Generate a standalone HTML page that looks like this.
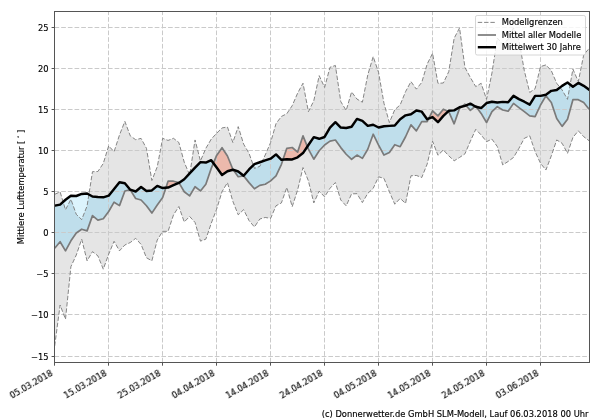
<!DOCTYPE html>
<html lang="de"><head><meta charset="utf-8"><title>Mittlere Lufttemperatur</title>
<style>html,body{margin:0;padding:0;background:#fff}svg{display:block}text{filter:url(#idf);stroke:#000;stroke-width:0.15px}</style></head>
<body>
<svg width="600" height="420" viewBox="0 0 600 420" font-family="DejaVu Sans, Liberation Sans, sans-serif" font-size="8.33" fill="#000">
<defs><filter id="idf" x="-5%" y="-50%" width="110%" height="200%"><feOffset dx="0" dy="0"/></filter></defs>
<rect width="600" height="420" fill="#fff"/>
<clipPath id="cp"><rect x="54" y="11" width="536" height="352"/></clipPath>
<g clip-path="url(#cp)">
<path d="M54.7,194.36 L60.1,191.81 L65.5,209.81 L70.89,199.29 L76.29,214.33 L81.69,219.59 L87.09,205.95 L92.49,171.67 L97.88,171.51 L103.28,163.45 L108.68,145.86 L114.08,151.7 L119.48,135.01 L124.87,121.37 L130.27,135.83 L135.67,139.7 L141.07,138.38 L146.47,148.33 L151.86,180.47 L157.26,166.74 L162.66,138.3 L168.06,140.44 L173.46,138.3 L178.85,142.49 L184.25,162.22 L189.65,174.96 L195.05,139.94 L200.45,160.99 L205.84,148.33 L211.24,139.12 L216.64,133.28 L222.04,127.94 L227.44,126.96 L232.83,142.49 L238.23,126.63 L243.63,144.13 L249.03,153.34 L254.43,168.38 L259.82,166.33 L265.22,154.99 L270.62,142.49 L276.02,123.58 L281.42,116.43 L286.81,113.72 L292.21,105.67 L297.61,93.17 L303.01,83.22 L308.41,111.67 L313.8,100.73 L319.2,75.66 L324.6,87.42 L330,67.28 L335.4,65.47 L340.79,101.64 L346.19,110.43 L351.59,91.94 L356.99,99.09 L362.39,102.21 L367.78,74.92 L373.18,56.59 L378.58,72.46 L383.98,103.28 L389.38,122.52 L394.77,109.69 L400.17,104.93 L405.57,91.61 L410.97,81.58 L416.37,89.14 L421.76,82.4 L427.16,64.07 L432.56,53.3 L437.96,83.31 L443.36,82.98 L448.75,71.63 L454.15,38.26 L459.55,27.9 L464.95,67.44 L470.35,77.47 L475.74,86.59 L481.14,83.31 L486.54,99.34 L491.94,73.03 L497.34,38.1 L502.73,44.26 L508.13,39.33 L513.53,27.82 L518.93,40.15 L524.33,70.73 L529.72,92.43 L535.12,88.65 L540.52,66.62 L545.92,64.89 L551.32,70.73 L556.71,83.31 L562.11,89.97 L567.51,99.34 L572.91,69.09 L578.31,81.58 L583.7,54.95 L589.1,48.37 L589.1,140.76 L583.7,136.65 L578.31,130.82 L572.91,137.48 L567.51,153.34 L562.11,143.31 L556.71,139.94 L551.32,155.81 L545.92,170.03 L540.52,163.29 L535.12,151.62 L529.72,135.83 L524.33,138.3 L518.93,148.33 L513.53,157.45 L508.13,161.48 L502.73,164.93 L497.34,146.6 L491.94,139.12 L486.54,141.67 L481.14,134.93 L475.74,129.34 L470.35,141.26 L464.95,153.83 L459.55,157.45 L454.15,160.82 L448.75,155.81 L443.36,149.97 L437.96,155.31 L432.56,141.26 L427.16,164.11 L421.76,177.51 L416.37,175.45 L410.97,175.78 L405.57,203.4 L400.17,198.39 L394.77,204.22 L389.38,191.73 L383.98,178.41 L378.58,176.77 L373.18,188.36 L367.78,193.37 L362.39,202.58 L356.99,193.7 L351.59,193.87 L346.19,205.87 L340.79,200.03 L335.4,182.52 L330,188.28 L324.6,196.83 L319.2,191.15 L313.8,202.91 L308.41,180.88 L303.01,167.56 L297.61,190 L292.21,206.69 L286.81,187.45 L281.42,202.91 L276.02,205.78 L270.62,218.36 L265.22,217.46 L259.82,219.02 L254.43,226.99 L249.03,220.58 L243.63,209.65 L238.23,214.83 L232.83,201.26 L227.44,182.6 L222.04,191.65 L216.64,209.16 L211.24,223.29 L205.84,239.16 L200.45,241.13 L195.05,222.47 L189.65,216.47 L184.25,221.98 L178.85,206.52 L173.46,214.99 L168.06,231.35 L162.66,231.35 L157.26,239.98 L151.86,260.86 L146.47,257.74 L141.07,244.42 L135.67,238.34 L130.27,242.53 L124.87,244.99 L119.48,250.83 L114.08,241.3 L108.68,254.2 L103.28,269.16 L97.88,255.84 L92.49,251.65 L87.09,260.86 L81.69,239.16 L76.29,255.02 L70.89,266.7 L65.5,319.22 L60.1,305 L54.7,345.94Z" fill="#e5e5e5"/>
<path d="M54.7,205.62 L60.1,204.63 L65.5,199.78 L70.89,195.67 L76.29,196 L81.69,193.95 L87.09,193.45 L92.49,196.5 L97.88,196.99 L103.28,197.32 L108.68,195.67 L114.08,189.02 L119.48,182.19 L124.87,183.18 L130.27,189.67 L135.67,191.48 L141.07,186.96 L146.47,190.91 L151.86,190.41 L157.26,185.89 L162.66,188.03 L165.9,187.73 L165.9,187.73 L162.66,197.56 L157.26,205.05 L151.86,213.1 L146.47,205.78 L141.07,200.03 L135.67,198.47 L130.27,189.84 L124.87,190.99 L119.48,205.62 L114.08,202.17 L108.68,211.46 L103.28,218.77 L97.88,220.17 L92.49,215.65 L87.09,230.86 L81.69,229.21 L76.29,232.99 L70.89,240.8 L65.5,250.83 L60.1,241.71 L54.7,248.28Z M178.99,182.84 L184.25,179.23 L189.65,173.4 L195.05,167.56 L200.45,162.14 L205.84,162.55 L211.24,160.16 L213.42,163.15 L213.42,163.15 L211.24,168.38 L205.84,184.25 L200.45,190.91 L195.05,186.71 L189.65,195.92 L184.25,191.73 L178.99,182.84Z M233.3,169.85 L238.23,171.51 L243.63,175.78 L249.03,169.45 L254.43,164.11 L259.82,162.22 L265.22,160.33 L270.62,158.68 L276.02,154.41 L281.42,159.84 L282.97,159.67 L282.97,159.67 L281.42,164.27 L276.02,175.86 L270.62,180.88 L265.22,184.25 L259.82,185.4 L254.43,188.77 L249.03,182.6 L243.63,175.86 L238.23,176.77 L233.3,169.85Z M307.35,146.55 L308.41,144.96 L313.8,137.15 L319.2,138.79 L324.6,136.98 L330,127.53 L335.4,122.19 L340.79,127.53 L346.19,128.02 L351.59,126.71 L356.99,118.9 L362.39,120.87 L367.78,125.89 L373.18,124.74 L378.58,127.53 L383.98,126.22 L389.38,125.89 L394.77,125.56 L400.17,119.23 L405.57,115.36 L410.97,114.21 L416.37,110.52 L421.76,111.67 L427.16,119.23 L428.7,118.59 L428.7,118.59 L427.16,121.69 L421.76,121.69 L416.37,130.9 L410.97,124.82 L405.57,136.74 L400.17,146.68 L394.77,144.71 L389.38,152.52 L383.98,155.07 L378.58,145.04 L373.18,134.19 L367.78,149.23 L362.39,158.36 L356.99,155.07 L351.59,159.26 L346.19,154.25 L340.79,147.59 L335.4,140.02 L330,141.09 L324.6,145.04 L319.2,150.79 L313.8,159.18 L308.41,149.15 L307.35,146.55Z M448.16,111.4 L448.75,110.84 L454.15,110.35 L459.55,107.23 L461.77,106.65 L461.77,106.65 L459.55,108.38 L454.15,123.83 L448.75,111.67 L448.16,111.4Z M466.02,105.41 L470.35,103.69 L475.15,106.4 L475.15,106.4 L470.35,110.35 L466.02,105.41Z M476.46,106.91 L481.14,108.05 L486.54,103.03 L491.94,101.72 L497.34,102.54 L502.73,101.88 L508.13,102.21 L513.53,95.88 L518.93,99.17 L524.33,101.72 L529.72,104.68 L535.12,95.88 L540.52,95.88 L545.92,94.73 L551.32,90.87 L556.71,90.05 L562.11,85.86 L567.51,82.48 L572.91,86.68 L578.31,82.9 L583.7,85.86 L589.1,89.72 L589.1,109.2 L583.7,102.54 L578.31,99.66 L572.91,99.66 L567.51,119.23 L562.11,126.38 L556.71,118.41 L551.32,102.54 L545.92,95.88 L540.52,105.01 L535.12,116.68 L529.72,115.86 L524.33,111.67 L518.93,107.56 L513.53,103.36 L508.13,111.25 L502.73,110.02 L497.34,106.73 L491.94,111.67 L486.54,122.52 L481.14,113.39 L476.46,106.91Z" fill="#bfdeeb"/>
<path d="M165.9,187.73 L168.06,181.21 L173.46,181.21 L178.85,182.6 L178.99,182.84 L178.99,182.84 L178.85,182.93 L173.46,185.07 L168.06,187.54 L165.9,187.73Z M213.42,163.15 L216.64,155.4 L222.04,147.67 L227.44,156.05 L232.83,169.21 L233.3,169.85 L233.3,169.85 L232.83,169.7 L227.44,171.26 L222.04,174.96 L216.64,167.56 L213.42,163.15Z M282.97,159.67 L286.81,148.33 L292.21,147.51 L297.61,152.11 L303.01,135.83 L307.35,146.55 L307.35,146.55 L303.01,153.09 L297.61,157.29 L292.21,159.42 L286.81,159.26 L282.97,159.67Z M428.7,118.59 L432.56,110.84 L437.96,115.86 L443.36,109.2 L448.16,111.4 L448.16,111.4 L443.36,115.86 L437.96,122.19 L432.56,117.01 L428.7,118.59Z M461.77,106.65 L464.95,104.19 L466.02,105.41 L466.02,105.41 L464.95,105.83 L461.77,106.65Z M475.15,106.4 L475.74,105.91 L476.46,106.91 L476.46,106.91 L475.74,106.73 L475.15,106.4Z" fill="#ecb9ac"/>
<path d="M63.13,201.91 L65.5,199.78 L70.89,195.67 L76.29,196 L81.69,193.95 L87.09,193.45 L88.9,194.47 L88.9,194.47 L87.09,205.95 L81.69,219.59 L76.29,214.33 L70.89,199.29 L65.5,209.81 L63.13,201.91Z M189.2,173.89 L189.65,173.4 L189.94,173.09 L189.94,173.09 L189.65,174.96 L189.2,173.89Z M253.29,165.23 L254.43,164.11 L259.82,162.22 L262.17,161.4 L262.17,161.4 L259.82,166.33 L254.43,168.38 L253.29,165.23Z M560.07,87.44 L562.11,85.86 L567.51,82.48 L570.15,84.54 L570.15,84.54 L567.51,99.34 L562.11,89.97 L560.07,87.44Z" fill="#dcf4fd"/>
<path d="M54.5,362.5V11.5 M108.5,362.5V11.5 M162.5,362.5V11.5 M216.5,362.5V11.5 M270.5,362.5V11.5 M324.5,362.5V11.5 M378.5,362.5V11.5 M432.5,362.5V11.5 M486.5,362.5V11.5 M540.5,362.5V11.5 M54.5,356.5H589.5 M54.5,314.5H589.5 M54.5,273.5H589.5 M54.5,232.5H589.5 M54.5,191.5H589.5 M54.5,150.5H589.5 M54.5,109.5H589.5 M54.5,68.5H589.5 M54.5,27.5H589.5" stroke="#cacaca" stroke-width="1.0" stroke-dasharray="4.68 2" fill="none"/>
<polyline points="54.7,194.36 60.1,191.81 65.5,209.81 70.89,199.29 76.29,214.33 81.69,219.59 87.09,205.95 92.49,171.67 97.88,171.51 103.28,163.45 108.68,145.86 114.08,151.7 119.48,135.01 124.87,121.37 130.27,135.83 135.67,139.7 141.07,138.38 146.47,148.33 151.86,180.47 157.26,166.74 162.66,138.3 168.06,140.44 173.46,138.3 178.85,142.49 184.25,162.22 189.65,174.96 195.05,139.94 200.45,160.99 205.84,148.33 211.24,139.12 216.64,133.28 222.04,127.94 227.44,126.96 232.83,142.49 238.23,126.63 243.63,144.13 249.03,153.34 254.43,168.38 259.82,166.33 265.22,154.99 270.62,142.49 276.02,123.58 281.42,116.43 286.81,113.72 292.21,105.67 297.61,93.17 303.01,83.22 308.41,111.67 313.8,100.73 319.2,75.66 324.6,87.42 330,67.28 335.4,65.47 340.79,101.64 346.19,110.43 351.59,91.94 356.99,99.09 362.39,102.21 367.78,74.92 373.18,56.59 378.58,72.46 383.98,103.28 389.38,122.52 394.77,109.69 400.17,104.93 405.57,91.61 410.97,81.58 416.37,89.14 421.76,82.4 427.16,64.07 432.56,53.3 437.96,83.31 443.36,82.98 448.75,71.63 454.15,38.26 459.55,27.9 464.95,67.44 470.35,77.47 475.74,86.59 481.14,83.31 486.54,99.34 491.94,73.03 497.34,38.1 502.73,44.26 508.13,39.33 513.53,27.82 518.93,40.15 524.33,70.73 529.72,92.43 535.12,88.65 540.52,66.62 545.92,64.89 551.32,70.73 556.71,83.31 562.11,89.97 567.51,99.34 572.91,69.09 578.31,81.58 583.7,54.95 589.1,48.37" fill="none" stroke="#787878" stroke-width="0.9" stroke-dasharray="4.4 1.9"/>
<polyline points="54.7,345.94 60.1,305 65.5,319.22 70.89,266.7 76.29,255.02 81.69,239.16 87.09,260.86 92.49,251.65 97.88,255.84 103.28,269.16 108.68,254.2 114.08,241.3 119.48,250.83 124.87,244.99 130.27,242.53 135.67,238.34 141.07,244.42 146.47,257.74 151.86,260.86 157.26,239.98 162.66,231.35 168.06,231.35 173.46,214.99 178.85,206.52 184.25,221.98 189.65,216.47 195.05,222.47 200.45,241.13 205.84,239.16 211.24,223.29 216.64,209.16 222.04,191.65 227.44,182.6 232.83,201.26 238.23,214.83 243.63,209.65 249.03,220.58 254.43,226.99 259.82,219.02 265.22,217.46 270.62,218.36 276.02,205.78 281.42,202.91 286.81,187.45 292.21,206.69 297.61,190 303.01,167.56 308.41,180.88 313.8,202.91 319.2,191.15 324.6,196.83 330,188.28 335.4,182.52 340.79,200.03 346.19,205.87 351.59,193.87 356.99,193.7 362.39,202.58 367.78,193.37 373.18,188.36 378.58,176.77 383.98,178.41 389.38,191.73 394.77,204.22 400.17,198.39 405.57,203.4 410.97,175.78 416.37,175.45 421.76,177.51 427.16,164.11 432.56,141.26 437.96,155.31 443.36,149.97 448.75,155.81 454.15,160.82 459.55,157.45 464.95,153.83 470.35,141.26 475.74,129.34 481.14,134.93 486.54,141.67 491.94,139.12 497.34,146.6 502.73,164.93 508.13,161.48 513.53,157.45 518.93,148.33 524.33,138.3 529.72,135.83 535.12,151.62 540.52,163.29 545.92,170.03 551.32,155.81 556.71,139.94 562.11,143.31 567.51,153.34 572.91,137.48 578.31,130.82 583.7,136.65 589.1,140.76" fill="none" stroke="#787878" stroke-width="0.9" stroke-dasharray="4.4 1.9"/>
<polyline points="54.7,248.28 60.1,241.71 65.5,250.83 70.89,240.8 76.29,232.99 81.69,229.21 87.09,230.86 92.49,215.65 97.88,220.17 103.28,218.77 108.68,211.46 114.08,202.17 119.48,205.62 124.87,190.99 130.27,189.84 135.67,198.47 141.07,200.03 146.47,205.78 151.86,213.1 157.26,205.05 162.66,197.56 168.06,181.21 173.46,181.21 178.85,182.6 184.25,191.73 189.65,195.92 195.05,186.71 200.45,190.91 205.84,184.25 211.24,168.38 216.64,155.4 222.04,147.67 227.44,156.05 232.83,169.21 238.23,176.77 243.63,175.86 249.03,182.6 254.43,188.77 259.82,185.4 265.22,184.25 270.62,180.88 276.02,175.86 281.42,164.27 286.81,148.33 292.21,147.51 297.61,152.11 303.01,135.83 308.41,149.15 313.8,159.18 319.2,150.79 324.6,145.04 330,141.09 335.4,140.02 340.79,147.59 346.19,154.25 351.59,159.26 356.99,155.07 362.39,158.36 367.78,149.23 373.18,134.19 378.58,145.04 383.98,155.07 389.38,152.52 394.77,144.71 400.17,146.68 405.57,136.74 410.97,124.82 416.37,130.9 421.76,121.69 427.16,121.69 432.56,110.84 437.96,115.86 443.36,109.2 448.75,111.67 454.15,123.83 459.55,108.38 464.95,104.19 470.35,110.35 475.74,105.91 481.14,113.39 486.54,122.52 491.94,111.67 497.34,106.73 502.73,110.02 508.13,111.25 513.53,103.36 518.93,107.56 524.33,111.67 529.72,115.86 535.12,116.68 540.52,105.01 545.92,95.88 551.32,102.54 556.71,118.41 562.11,126.38 567.51,119.23 572.91,99.66 578.31,99.66 583.7,102.54 589.1,109.2" fill="none" stroke="#7a7a7a" stroke-width="1.7" stroke-linejoin="round"/>
<polyline points="54.7,205.62 60.1,204.63 65.5,199.78 70.89,195.67 76.29,196 81.69,193.95 87.09,193.45 92.49,196.5 97.88,196.99 103.28,197.32 108.68,195.67 114.08,189.02 119.48,182.19 124.87,183.18 130.27,189.67 135.67,191.48 141.07,186.96 146.47,190.91 151.86,190.41 157.26,185.89 162.66,188.03 168.06,187.54 173.46,185.07 178.85,182.93 184.25,179.23 189.65,173.4 195.05,167.56 200.45,162.14 205.84,162.55 211.24,160.16 216.64,167.56 222.04,174.96 227.44,171.26 232.83,169.7 238.23,171.51 243.63,175.78 249.03,169.45 254.43,164.11 259.82,162.22 265.22,160.33 270.62,158.68 276.02,154.41 281.42,159.84 286.81,159.26 292.21,159.42 297.61,157.29 303.01,153.09 308.41,144.96 313.8,137.15 319.2,138.79 324.6,136.98 330,127.53 335.4,122.19 340.79,127.53 346.19,128.02 351.59,126.71 356.99,118.9 362.39,120.87 367.78,125.89 373.18,124.74 378.58,127.53 383.98,126.22 389.38,125.89 394.77,125.56 400.17,119.23 405.57,115.36 410.97,114.21 416.37,110.52 421.76,111.67 427.16,119.23 432.56,117.01 437.96,122.19 443.36,115.86 448.75,110.84 454.15,110.35 459.55,107.23 464.95,105.83 470.35,103.69 475.74,106.73 481.14,108.05 486.54,103.03 491.94,101.72 497.34,102.54 502.73,101.88 508.13,102.21 513.53,95.88 518.93,99.17 524.33,101.72 529.72,104.68 535.12,95.88 540.52,95.88 545.92,94.73 551.32,90.87 556.71,90.05 562.11,85.86 567.51,82.48 572.91,86.68 578.31,82.9 583.7,85.86 589.1,89.72" fill="none" stroke="#000" stroke-width="2.45" stroke-linejoin="round" stroke-linecap="square"/>
</g>
<rect x="54.5" y="11.5" width="535.0" height="351.0" fill="none" stroke="#555555" stroke-width="1.0"/>
<path d="M54.5,363.0v2.7 M108.5,363.0v2.7 M162.5,363.0v2.7 M216.5,363.0v2.7 M270.5,363.0v2.7 M324.5,363.0v2.7 M378.5,363.0v2.7 M432.5,363.0v2.7 M486.5,363.0v2.7 M540.5,363.0v2.7 M54.0,356.5h-2.4 M54.0,314.5h-2.4 M54.0,273.5h-2.4 M54.0,232.5h-2.4 M54.0,191.5h-2.4 M54.0,150.5h-2.4 M54.0,109.5h-2.4 M54.0,68.5h-2.4 M54.0,27.5h-2.4" stroke="#555555" stroke-width="1.0" fill="none"/>
<text x="48.5" y="359.56" text-anchor="end">−15</text>
<text x="48.5" y="318.44" text-anchor="end">−10</text>
<text x="48.5" y="277.32" text-anchor="end">−5</text>
<text x="48.5" y="236.2" text-anchor="end">0</text>
<text x="48.5" y="195.08" text-anchor="end">5</text>
<text x="48.5" y="153.96" text-anchor="end">10</text>
<text x="48.5" y="112.84" text-anchor="end">15</text>
<text x="48.5" y="71.72" text-anchor="end">20</text>
<text x="48.5" y="30.6" text-anchor="end">25</text>
<text transform="translate(53.4,375) rotate(-30)" text-anchor="end">05.03.2018</text>
<text transform="translate(107.4,375) rotate(-30)" text-anchor="end">15.03.2018</text>
<text transform="translate(161.4,375) rotate(-30)" text-anchor="end">25.03.2018</text>
<text transform="translate(215.4,375) rotate(-30)" text-anchor="end">04.04.2018</text>
<text transform="translate(269.4,375) rotate(-30)" text-anchor="end">14.04.2018</text>
<text transform="translate(323.4,375) rotate(-30)" text-anchor="end">24.04.2018</text>
<text transform="translate(377.4,375) rotate(-30)" text-anchor="end">04.05.2018</text>
<text transform="translate(431.4,375) rotate(-30)" text-anchor="end">14.05.2018</text>
<text transform="translate(485.4,375) rotate(-30)" text-anchor="end">24.05.2018</text>
<text transform="translate(539.4,375) rotate(-30)" text-anchor="end">03.06.2018</text>
<text transform="translate(24.0,187.0) rotate(-90)" text-anchor="middle">Mittlere Lufttemperatur [ <tspan font-size="4.6" dy="-2.8">°</tspan><tspan dy="2.8"> ]</tspan></text>
<text x="588.5" y="417.0" text-anchor="end">(c) Donnerwetter.de GmbH SLM-Modell, Lauf 06.03.2018 00 Uhr</text>
<rect x="475.5" y="15.5" width="110.0" height="39.5" rx="1.7" fill="#fff" fill-opacity="0.8" stroke="#cccccc" stroke-width="0.8"/>
<path d="M477.8,22.4H496.0" stroke="#787878" stroke-width="0.9" stroke-dasharray="4.4 1.9"/>
<path d="M477.8,35.0H496.0" stroke="#7a7a7a" stroke-width="1.7"/>
<path d="M477.8,47.2H496.0" stroke="#000" stroke-width="2.45"/>
<text x="501.8" y="25">Modellgrenzen</text>
<text x="501.8" y="37.6">Mittel aller Modelle</text>
<text x="501.8" y="49.8">Mittelwert 30 Jahre</text>
</svg>
</body></html>
